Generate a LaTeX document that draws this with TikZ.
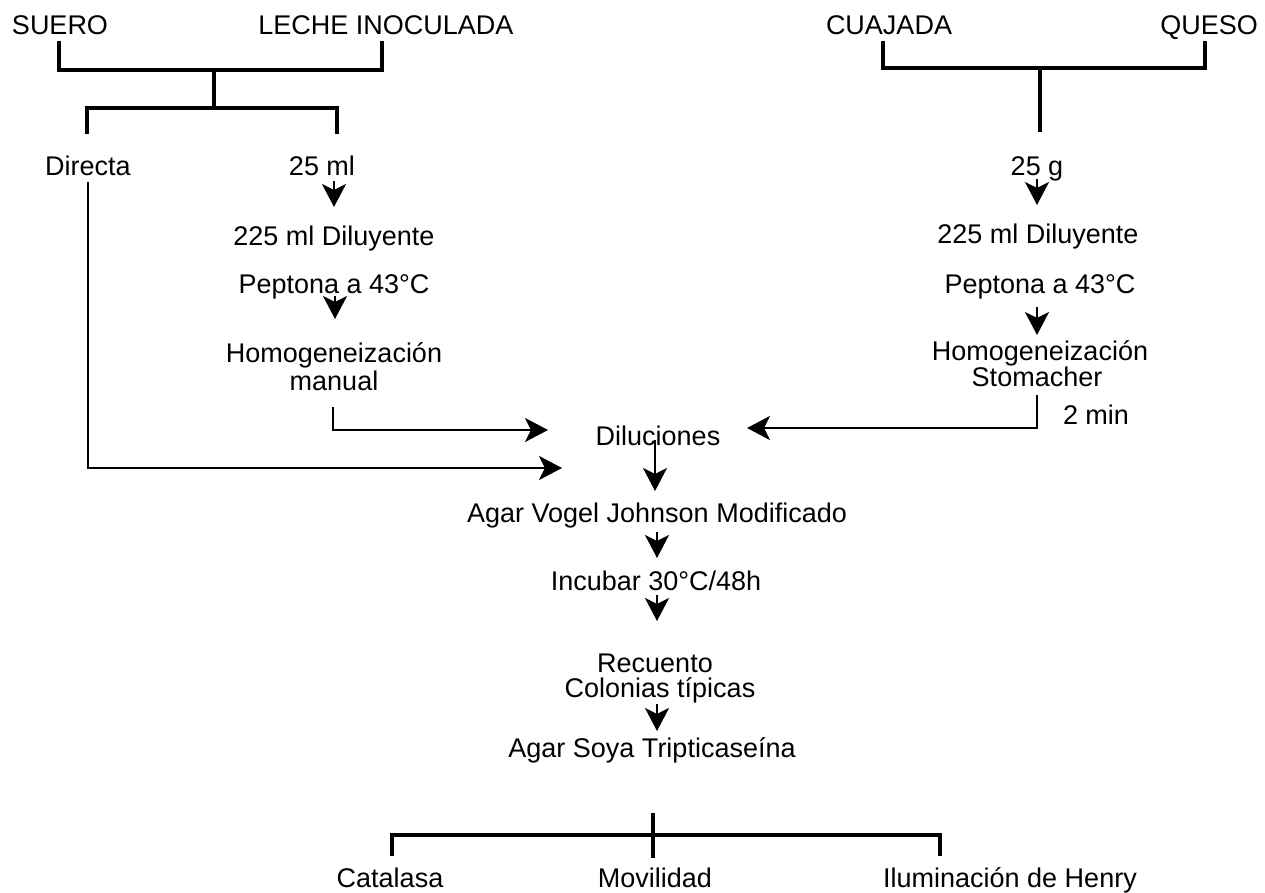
\documentclass[tikz,border=0pt]{standalone}
\usepackage{fontspec}
\setmainfont{Liberation Sans}
\usetikzlibrary{arrows.meta}
\tikzset{
  lbl/.style={anchor=base, inner sep=0pt, font=\fontsize{27}{30}\selectfont},
  brk/.style={line width=3.8pt, line cap=rect},
  arr/.style={line width=2.5pt, -{Stealth[length=23pt,width=24pt,inset=6pt]}},
  ln/.style={line width=2.5pt}
}
\begin{document}
\begin{tikzpicture}[x=1pt,y=-1pt]
\useasboundingbox[fill=white] (0,0) rectangle (1265,892);
% top labels
\node[lbl] (suero) at (60,34) {SUERO};
\node[lbl] (leche) at (386,34) {LECHE INOCULADA};
\node[lbl] (cuajada) at (889,34) {CUAJADA};
\node[lbl] (queso) at (1209,34) {QUESO};
% left column
\node[lbl] (directa) at (88,175) {Directa};
\node[lbl] (ml25) at (322,175) {25 ml};
\node[lbl] (dil1) at (334,245) {225 ml Diluyente};
\node[lbl] (pep1) at (334,293) {Peptona a 43°C};
\node[lbl] (hom1) at (334,362) {Homogeneización};
\node[lbl] (man) at (334,390) {manual};
% right column
\node[lbl] (g25) at (1037,175) {25 g};
\node[lbl] (dil2) at (1038,243) {225 ml Diluyente};
\node[lbl] (pep2) at (1040,293) {Peptona a 43°C};
\node[lbl] (hom2) at (1040,360) {Homogeneización};
\node[lbl] (stom) at (1037,386) {Stomacher};
\node[lbl] (min2) at (1096,424) {2 min};
% centre column
\node[lbl] (dilu) at (658,445) {Diluciones};
\node[lbl] (vogel) at (657,522) {Agar Vogel Johnson Modificado};
\node[lbl] (incub) at (656,590) {Incubar 30°C/48h};
\node[lbl] (recu) at (655,672) {Recuento};
\node[lbl] (colon) at (660,697) {Colonias típicas};
\node[lbl] (soya) at (652,757) {Agar Soya Tripticaseína};
% bottom
\node[lbl] (cat) at (390,887) {Catalasa};
\node[lbl] (mov) at (655,887) {Movilidad};
\node[lbl] (ilu) at (1010,887) {Iluminación de Henry};
% top-left brackets
\coordinate (tlL) at (59,43);
\coordinate (tlR) at (382,43);
\coordinate (tlS) at (214,70);
\coordinate (tlS2) at (214,108);
\draw[brk] (tlL) -- (59,70) -- (382,70) -- (tlR);
\draw[brk] (tlS) -- (tlS2);
\draw[brk] (87,132) -- (87,108) -- (337,108) -- (337,132);
% top-right bracket
\coordinate (trS) at (1040,68);
\draw[brk] (883,43) -- (883,68) -- (1205,68) -- (1205,43);
\draw[brk] (trS) -- (1040,130);
% left column arrows
\draw[arr] (334,181) -- (334,207);
\draw[arr] (335,296) -- (335,319);
\draw[arr] (333,407) -- (333,430) -- (548,430);
\draw[arr] (88,182) -- (88,468) -- (562,468);
% right column arrows
\draw[arr] (1037,179) -- (1037,205);
\draw[arr] (1037,307) -- (1037,335);
\draw[arr] (1037,395) -- (1037,428) -- (747,428);
% centre arrows
\draw[arr] (655,440) -- (655,491);
\draw[arr] (657,532) -- (657,558);
\draw[arr] (657,595) -- (657,621);
\draw[arr] (657,704) -- (657,731);
% bottom bracket
\draw[brk] (653,815) -- (653,856);
\draw[brk] (392,854) -- (392,835) -- (940,835) -- (940,854);
\end{tikzpicture}
\end{document}
